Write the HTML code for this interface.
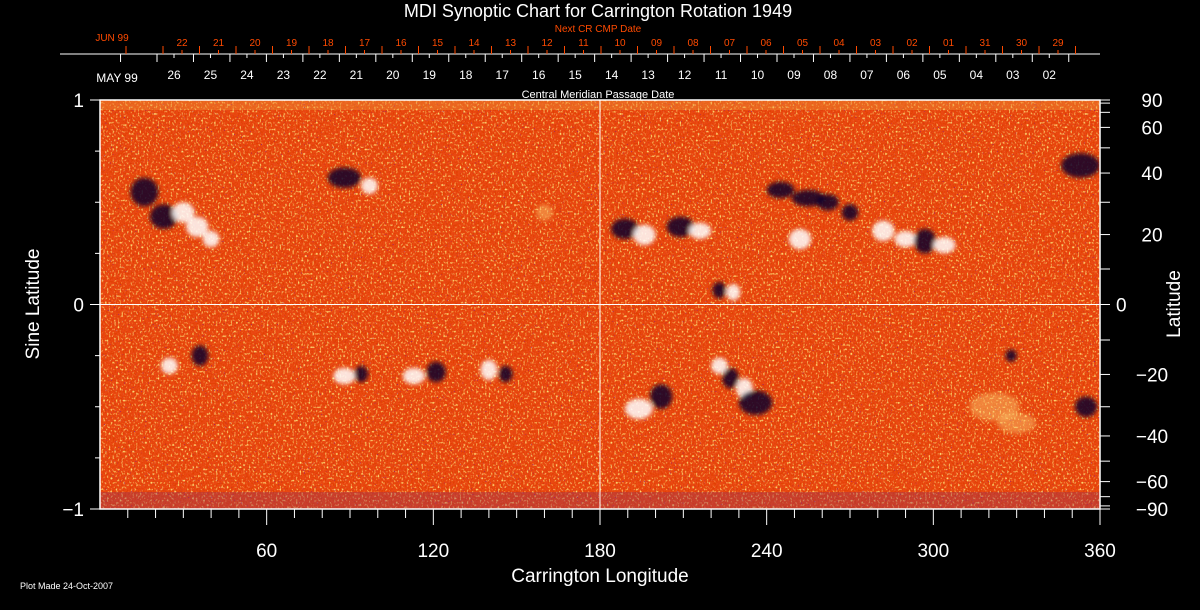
<!DOCTYPE html>
<html><head><meta charset="utf-8"><style>
body{margin:0;background:#000;}
svg{display:block;font-family:"Liberation Sans",sans-serif;}
</style></head><body>
<svg id="chart" width="1200" height="610" viewBox="0 0 1200 610" xmlns="http://www.w3.org/2000/svg">
<defs>
<filter id="speck" x="0" y="0" width="100%" height="100%">
<feTurbulence type="fractalNoise" baseFrequency="0.55 0.45" numOctaves="1" seed="3"/>
<feColorMatrix type="matrix" values="0 0 0 0 1  0 0 0 0 0.8  0 0 0 0 0.2  4 0 0 0 -2.2"/>
</filter>
<filter id="speck2" x="0" y="0" width="100%" height="100%">
<feTurbulence type="fractalNoise" baseFrequency="0.6" numOctaves="1" seed="9"/>
<feColorMatrix type="matrix" values="0 0 0 0 0.75  0 0 0 0 0.05  0 0 0 0 0  4 0 0 0 -1.8"/>
</filter>
<filter id="speck3" x="0" y="0" width="100%" height="100%">
<feTurbulence type="fractalNoise" baseFrequency="0.7" numOctaves="1" seed="21"/>
<feColorMatrix type="matrix" values="0 0 0 0 0.1  0 0 0 0 0  0 0 0 0 0.5  5 0 0 0 -3.4"/>
</filter>
<filter id="blur"><feGaussianBlur stdDeviation="2"/></filter>
<clipPath id="plotclip"><rect x="100" y="100" width="1000" height="409"/></clipPath>
</defs>
<rect width="1200" height="610" fill="#000"/>
<g id="plot" clip-path="url(#plotclip)">
<rect x="100" y="100" width="1000" height="409" fill="#ea4812"/>
<rect x="100" y="100" width="1000" height="409" filter="url(#speck2)"/>
<rect x="100" y="100" width="1000" height="409" filter="url(#speck)"/>
<rect x="100" y="100" width="1000" height="409" filter="url(#speck3)"/>
<rect x="100" y="100" width="1000" height="10" fill="#f0a040" opacity="0.35"/>
<rect x="100" y="492" width="1000" height="17" fill="#903060" opacity="0.35"/>
<g id="blobs" filter="url(#blur)"></g>
</g>
<g id="axes"></g>
<text x="598" y="17" fill="#fff" font-size="18" text-anchor="middle">MDI Synoptic Chart for Carrington Rotation 1949</text>
<text x="598" y="32" fill="#ff4a00" font-size="10" text-anchor="middle">Next CR CMP Date</text>
<text x="112" y="41" fill="#ff4a00" font-size="10" text-anchor="middle">JUN 99</text>
<text x="117" y="82" fill="#fff" font-size="12" text-anchor="middle">MAY 99</text>
<text x="598" y="98" fill="#fff" font-size="11" text-anchor="middle">Central Meridian Passage Date</text>
<text x="600" y="582" fill="#fff" font-size="19" text-anchor="middle">Carrington Longitude</text>
<text transform="translate(39,304) rotate(-90)" fill="#fff" font-size="19" text-anchor="middle">Sine Latitude</text>
<text transform="translate(1180,304) rotate(-90)" fill="#fff" font-size="19" text-anchor="middle">Latitude</text>
<text x="20" y="589" fill="#fff" font-size="9">Plot Made 24-Oct-2007</text>
</svg>
<script>
const lonTicks=[60,120,180,240,300,360];
const sinTicks=[1,0,-1];
const latTicks=[90,60,40,20,0,-20,-40,-60,-90];
const cmpLabels=["26","25","24","23","22","21","20","19","18","17","16","15","14","13","12","11","10","09","08","07","06","05","04","03","02"];
const nextLabels=["22","21","20","19","18","17","16","15","14","13","12","11","10","09","08","07","06","05","04","03","02","01","31","30","29"];
// active region features: longitude, sine latitude, lon size(deg), sinlat size, polarity
const featLon=[16,23,30,35,40,88,97,189,196,209,216,223,228,245,255,262,252,282,290,297,304,353,25,36,88,94,113,121,140,146,194,202,223,227,232,236,322,330,328,355,270,160];
const featSin=[0.55,0.43,0.45,0.38,0.32,0.62,0.58,0.37,0.34,0.38,0.36,0.07,0.06,0.56,0.52,0.5,0.32,0.36,0.32,0.31,0.29,0.68,-0.3,-0.25,-0.35,-0.34,-0.35,-0.33,-0.32,-0.34,-0.51,-0.45,-0.3,-0.36,-0.41,-0.48,-0.5,-0.58,-0.25,-0.5,0.45,0.45];
const featW=[5,5,4,4,3,6,3,5,4,5,4,2.5,2.5,5,6,4,4,4,4,4,4,7,3,3,4,2.5,4,3.5,3,2.5,5,4,3,3,3,6,9,7,2,4,3,3];
const featH=[0.07,0.06,0.05,0.05,0.04,0.05,0.04,0.05,0.05,0.05,0.04,0.04,0.04,0.04,0.04,0.04,0.05,0.05,0.04,0.06,0.04,0.06,0.04,0.05,0.04,0.04,0.04,0.05,0.05,0.04,0.05,0.06,0.04,0.05,0.05,0.06,0.07,0.05,0.03,0.05,0.04,0.04];
const featPol=[-1,-1,1,1,1,-1,1,-1,1,-1,1,-1,1,-1,-1,-1,1,1,1,-1,1,-1,1,-1,1,-1,1,-1,1,-1,1,-1,1,-1,1,-1,0,0,-1,-1,-1,0];
const NS='http://www.w3.org/2000/svg';
const X0=100,X1=1100,Y0=100,Y1=509;
const xS=l=>X0+(X1-X0)*l/360;
const yS=s=>(Y0+Y1)/2-(Y1-Y0)/2*s;
function mk(tag,at,parent){const e=document.createElementNS(NS,tag);for(const k in at)e.setAttribute(k,at[k]);parent.appendChild(e);return e;}
const blobs=document.getElementById('blobs');
featLon.forEach((l,i)=>{
  const col=featPol[i]>0?'#ffffff':(featPol[i]<0?'#08002a':'#ffe080');
  const e=mk('ellipse',{cx:xS(l),cy:yS(featSin[i]),rx:(X1-X0)*featW[i]/360,ry:(Y1-Y0)/2*featH[i],fill:col,opacity:featPol[i]===0?0.4:0.85},blobs);
  
  
});
const ax=document.getElementById('axes');
const W='#fff';
let f=mk('rect',{x:X0,y:Y0,width:X1-X0,height:Y1-Y0,fill:'none',stroke:W,'stroke-width':1.5},ax);


let g=mk('line',{x1:X0,x2:X1,y1:yS(0),y2:yS(0),stroke:W,'stroke-width':1},ax);


g=mk('line',{x1:xS(180),x2:xS(180),y1:Y0,y2:Y1,stroke:W,'stroke-width':1},ax);


for(let l=10;l<=360;l+=10){const major=l%60===0;const t=mk('line',{x1:xS(l),x2:xS(l),y1:Y1,y2:Y1+(major?16:9),stroke:W},ax);}
lonTicks.forEach(l=>{const t=mk('text',{x:xS(l),y:557,fill:W,'font-size':19,'text-anchor':'middle'},ax);t.textContent=l;});
for(let s=-1;s<=1.001;s+=0.25){const major=Math.abs(s%1)<0.01;const t=mk('line',{x1:X0-(major?10:5),x2:X0,y1:yS(s),y2:yS(s),stroke:W},ax);}
sinTicks.forEach(s=>{const t=mk('text',{x:84,y:yS(s)+7,fill:W,'font-size':19,'text-anchor':'end'},ax);t.textContent=s<0?'\u2212'+Math.abs(s):s;});
for(let a=-90;a<=90;a+=10){const t=mk('line',{x1:X1,x2:X1+10,y1:yS(Math.sin(a*Math.PI/180)),y2:yS(Math.sin(a*Math.PI/180)),stroke:W},ax);}
latTicks.forEach(a=>{const t=mk('text',{x:a===0?1116:1152,y:yS(Math.sin(a*Math.PI/180))+7,fill:W,'font-size':19,'text-anchor':a===0?'start':'middle'},ax);t.textContent=a<0?'\u2212'+Math.abs(a):a;});
const TY=54,dd=36.47;
let ta=mk('line',{x1:60,x2:1100,y1:TY,y2:TY,stroke:W},ax);


for(let k=-1;k<=25;k++){const x=157+dd*k;const t=mk('line',{x1:x,x2:x,y1:TY,y2:TY+8,stroke:W},ax);}
cmpLabels.forEach((d,k)=>{const x=174+dd*k;const t=mk('line',{x1:x,x2:x,y1:TY,y2:TY+4,stroke:W},ax);
 const tx=mk('text',{x:x,y:79,fill:W,'font-size':12,'text-anchor':'middle'},ax);tx.textContent=d;});
{const t=mk('line',{x1:126,x2:126,y1:TY-8,y2:TY,stroke:'#ff4a00'},ax);}
for(let k=0;k<=25;k++){const x=163+36.5*k;const t=mk('line',{x1:x,x2:x,y1:TY-8,y2:TY,stroke:'#ff4a00'},ax);}
nextLabels.forEach((d,k)=>{const x=182+36.5*k;const t=mk('line',{x1:x,x2:x,y1:TY-4,y2:TY,stroke:'#ff4a00'},ax);
 const tx=mk('text',{x:x,y:46,fill:'#ff4a00','font-size':10,'text-anchor':'middle'},ax);tx.textContent=d;});
</script>
</body></html>
